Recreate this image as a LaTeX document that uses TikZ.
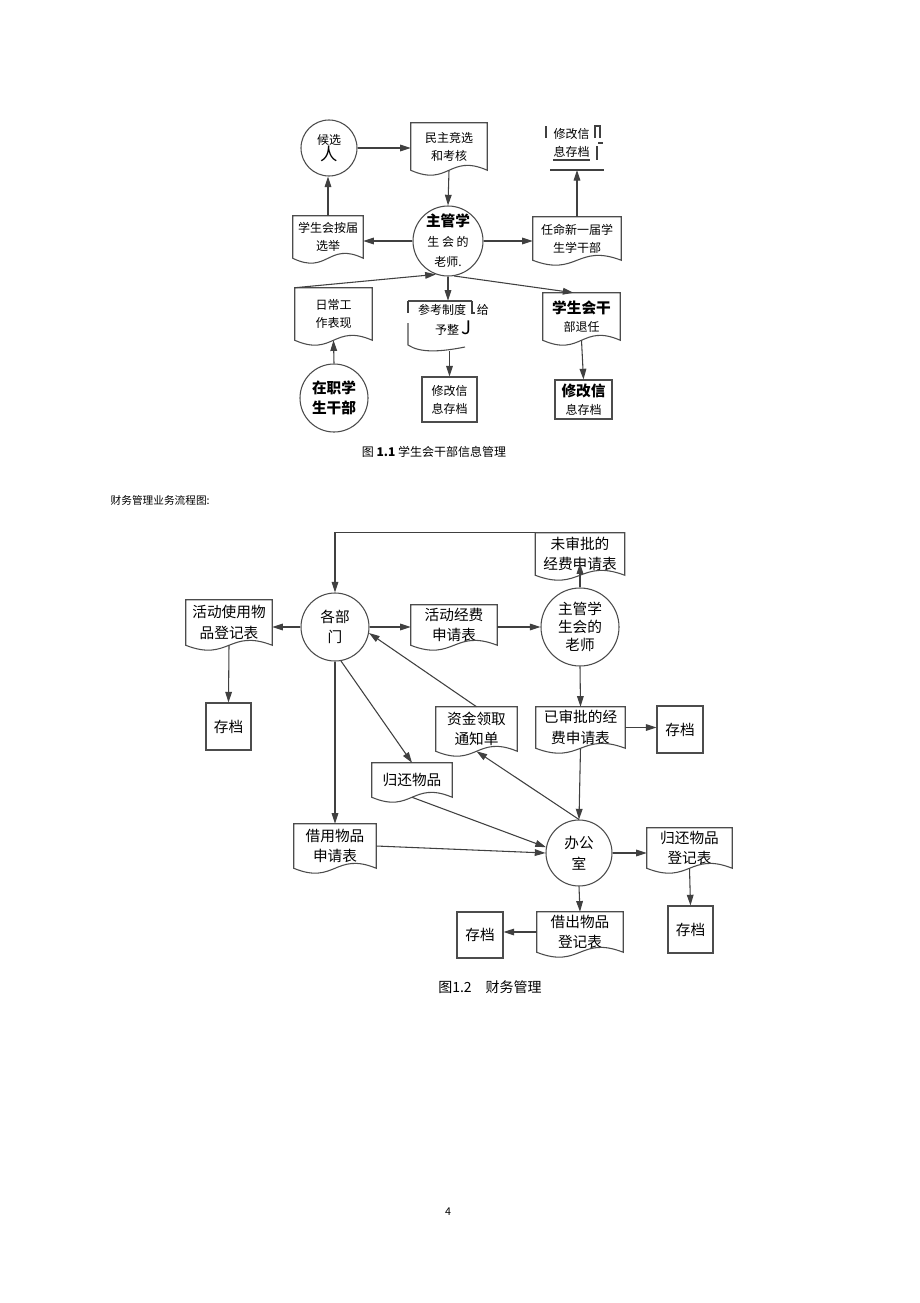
\documentclass[tikz,border=0pt]{standalone}
\usepackage{fontspec}
\setmainfont{Noto Sans CJK SC}
\usetikzlibrary{arrows.meta,calc}

\newcommand{\fsmall}{\fontsize{9}{13.5}\selectfont}
\newcommand{\fbig}{\fontsize{11}{15}\selectfont}
\newcommand{\fmid}{\fontsize{11}{15.5}\selectfont}
% wavy lower edge of a document symbol
\newcommand{\docoutline}[1]{\draw[docline] (#1.south west) -- (#1.north west) -- (#1.north east) -- (#1.south east) .. controls ($(#1.south)+(0,-17)$) and ($(#1.south)+(0,17)$) .. (#1.south west) -- cycle;}

\tikzset{
  proc/.style={circle,draw=black!70,line width=0.8pt,inner sep=0pt,align=center},
  doc/.style={rectangle,inner sep=0pt,align=center},
  store/.style={rectangle,draw=black!70,line width=0.8pt,inner sep=0pt,align=center},
  arr/.style={draw=black!75,line width=0.8pt,-{Triangle[length=8pt,width=5pt]}},
  docline/.style={draw=black!70,line width=0.8pt},
  mark line/.style={draw=black!75,line width=1pt}
}

\begin{document}
\begin{tikzpicture}[x=0.75pt,y=0.75pt,yscale=-1,xscale=1]
        \fill[white] (0,0) rectangle (920,1303);
        \useasboundingbox (0,0) rectangle (920,1303);

        %Figure 1.1
        %Shape: Circle
        \node[proc,minimum size=42pt] (cand) at (329,148) {\fsmall 候选\\{\fontsize{13}{15}\selectfont 人}};
        \node[doc,minimum width=57pt,minimum height=35.25pt,font=\fsmall] (elect) at (449,146.5) {民主竞选\\和考核};
        \docoutline{elect}
        \node[proc,minimum size=52.5pt,font=\fontsize{9}{15}\selectfont] (teacher) at (448,241) {{\bfseries\fbig 主管学}\\生\ 会\ 的\\老师.};
        \node[doc,minimum width=52.5pt,minimum height=31.5pt,font=\fsmall] (vote) at (328,237) {学生会按届\\选举};
        \docoutline{vote}
        \node[doc,minimum width=66pt,minimum height=32.25pt,font=\fsmall] (appoint) at (577,238.5) {任命新一届学\\生学干部};
        \docoutline{appoint}
        % open store at the top right
        \node[doc,font=\fsmall] (store1) at (571.5,143) {修改信\\息存档};
        \coordinate (storeline) at (577,170);
        \draw[mark line] (550,170) -- (604,170);
        \draw[mark line] (546,126) -- (546,138);
        \draw[mark line] (595,138) -- (595,126) -- (600,126) -- (600,138);
        \draw[mark line] (598,143) -- (603,143);
        \draw[mark line] (553,160) -- (590,160);
        \draw[mark line] (597,146) -- (597,160);
        \node[doc,minimum width=57.75pt,minimum height=39pt,font=\fsmall] (daily) at (333.5,314) {日常工\\作表现};
        \docoutline{daily}
        \node[doc,minimum height=28.5pt,font=\fsmall] (advise) at (453.5,320) {参考制度\hspace{8pt}给\\[2pt]予整\ {\fontsize{14}{14}\selectfont J}};
        \draw[docline] (408,301) -- (472,301);
        \draw[mark line] (408,301) -- (408,313);
        \draw[mark line] (472,301) -- (472,313) -- (475,313);
        \draw[docline] (408,323) -- (408,345) .. controls (420,353) and (440,352) .. (465,347);
        \node[doc,minimum width=57.75pt,minimum height=35.25pt,font=\fsmall] (retire) at (581.5,316.5) {{\bfseries\fbig 学生会干}\\部退任};
        \docoutline{retire}
        \node[store,minimum width=41.25pt,minimum height=33.75pt,font=\fsmall] (mod2) at (449.5,399.5) {修改信\\息存档};
        \node[store,minimum width=42.75pt,minimum height=29.25pt,font=\fsmall] (mod3) at (583.5,399.5) {{\bfseries\fbig 修改信}\\息存档};
        \node[proc,minimum size=51pt,font=\bfseries\fbig] (onduty) at (334,398) {在职学\\生干部};

        %Straight Lines
        \draw[arr] (cand.east) -- (cand.east -| elect.west);
        \draw[arr] (elect.south) -- (teacher.north);
        \draw[arr] (teacher.west) -- (teacher.west -| vote.east);
        \draw[arr] (vote.north) -- (vote.north |- cand.south);
        \draw[arr] (teacher.east) -- (teacher.east -| appoint.west);
        \draw[arr] (appoint.north) -- (storeline);
        \draw[arr] (daily.north west) -- (teacher.250);
        \draw[arr] (teacher.280) -- ($(retire.north)+(-8,0)$);
        \draw[arr] (teacher.south) -- (teacher.south |- advise.north);
        \draw[arr] ($(advise.south -| mod2.north)+(0,12)$) -- (mod2.north);
        \draw[arr] (retire.south) -- (mod3.north);
        \draw[arr] (onduty.north) -- (daily.south);

        % Text Node
        \node[font=\fsmall] (cap1) at (434,452) {图 {\bfseries 1.1} 学生会干部信息管理};
        \node[anchor=west,font=\fontsize{8}{10}\selectfont] (title2) at (106,500) {财务管理业务流程图:};

        %Figure 1.2
        \node[doc,minimum width=66.75pt,minimum height=31.5pt,font=\fmid] (unapp) at (580,554) {未审批的\\经费申请表};
        \docoutline{unapp}
        \node[proc,minimum size=58.5pt,font=\fontsize{11}{13.5}\selectfont] (mgr) at (580,627) {主管学\\生会的\\老师};
        \node[proc,minimum size=51pt,font=\fmid] (dept) at (335,627) {各部\\门};
        \node[doc,minimum width=64.5pt,minimum height=33.75pt,font=\fmid] (useform) at (229,622.5) {活动使用物\\品登记表};
        \docoutline{useform}
        \node[store,minimum width=33.75pt,minimum height=35.25pt,font=\fmid] (arch1) at (228.5,726.5) {存档};
        \node[doc,minimum width=64.5pt,minimum height=30pt,font=\fmid] (fundreq) at (454,625) {活动经费\\申请表};
        \docoutline{fundreq}
        \node[doc,minimum width=66.75pt,minimum height=30.75pt,font=\fmid] (appr) at (580.5,727.5) {已审批的经\\费申请表};
        \docoutline{appr}
        \node[store,minimum width=34.5pt,minimum height=35.25pt,font=\fmid] (arch2) at (680,729.5) {存档};
        \node[doc,minimum width=60.75pt,minimum height=33pt,font=\fmid] (notice) at (476.5,729) {资金领取\\通知单};
        \docoutline{notice}
        \node[doc,minimum width=60pt,minimum height=25.5pt,font=\fmid] (retobj) at (412,780) {归还物品};
        \docoutline{retobj}
        \node[doc,minimum width=61.5pt,minimum height=33pt,font=\fmid] (borrow) at (335,846) {借用物品\\申请表};
        \docoutline{borrow}
        \node[proc,minimum size=49.5pt,font=\fmid] (office) at (579,853) {办公\\室};
        \node[doc,minimum width=63.75pt,minimum height=30pt,font=\fmid] (retlog) at (689.5,848) {归还物品\\登记表};
        \docoutline{retlog}
        \node[store,minimum width=33.75pt,minimum height=35.25pt,font=\fmid] (arch3) at (690.5,929.5) {存档};
        \node[doc,minimum width=64.5pt,minimum height=30pt,font=\fmid] (lendlog) at (580,932) {借出物品\\登记表};
        \docoutline{lendlog}
        \node[store,minimum width=34.5pt,minimum height=34.5pt,font=\fmid] (arch4) at (480,935) {存档};

        %Straight Lines
        \draw[arr] (unapp.north west) -| (dept.north);
        \draw[arr] (mgr.north) -- ($(unapp.south)+(0,-12)$);
        \draw[arr] (dept.west) -- (dept.west -| useform.east);
        \draw[arr] (useform.south) -- (arch1.north);
        \draw[arr] (dept.east) -- (dept.east -| fundreq.west);
        \draw[arr] (mgr.west -| fundreq.east) -- (mgr.west);
        \draw[arr] (mgr.south) -- (appr.north);
        \draw[arr] (appr.east) -- (appr.east -| arch2.west);
        \draw[arr] (notice.north) -- (dept.-10);
        \draw[arr] (office.north) -- (notice.south);
        \draw[arr] (appr.south) -- (office.north);
        \draw[arr] (dept.-80) -- (retobj.north);
        \draw[arr] (dept.south) -- (borrow.north);
        \draw[arr] (borrow.east) -- (office.west);
        \draw[arr] (retobj.south) -- (office.170);
        \draw[arr] (office.east) -- (office.east -| retlog.west);
        \draw[arr] (retlog.south) -- (arch3.north);
        \draw[arr] (office.south) -- (lendlog.north);
        \draw[arr] (lendlog.west) -- (lendlog.west -| arch4.east);

        % Text Node
        \node[font=\fontsize{10.5}{12}\selectfont] (cap2) at (490,987) {图1.2\quad 财务管理};
        \node[font=\fontsize{8}{10}\selectfont] (pagenum) at (448,1212) {4};
\end{tikzpicture}
\end{document}
